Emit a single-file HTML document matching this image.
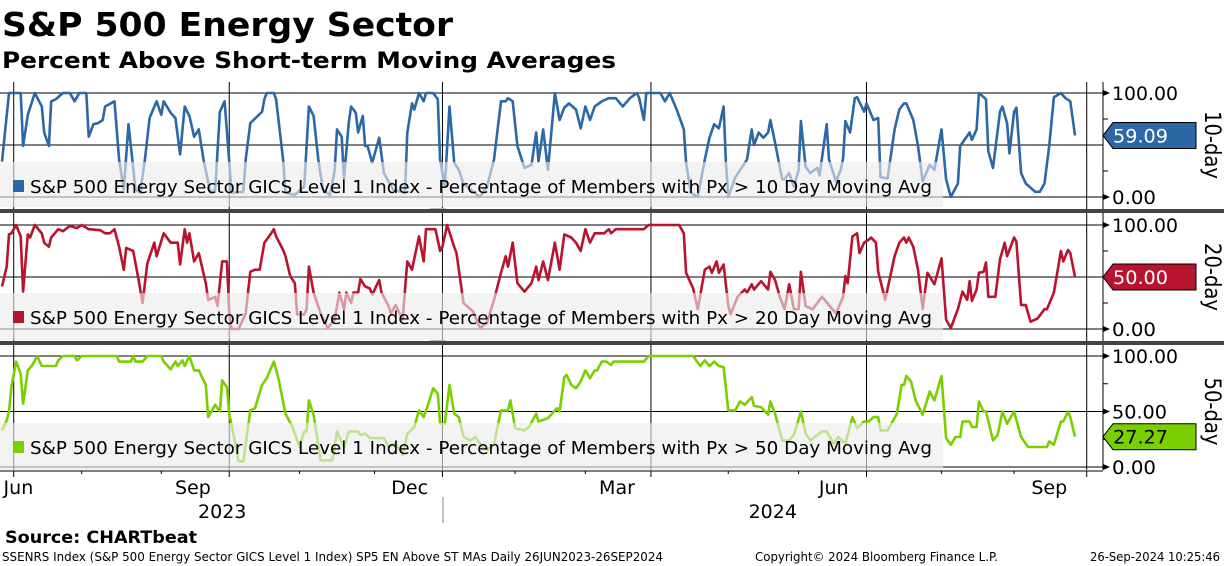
<!DOCTYPE html>
<html><head><meta charset="utf-8">
<style>
html,body{margin:0;padding:0;background:#fff;}
svg{display:block;font-family:"DejaVu Sans","Liberation Sans",sans-serif;}
</style></head>
<body>
<svg id="chart" width="1224" height="566" viewBox="0 0 1224 566" xmlns="http://www.w3.org/2000/svg">
<text x="2" y="36" font-size="33" font-weight="bold" textLength="451" lengthAdjust="spacingAndGlyphs">S&amp;P 500 Energy Sector</text>
<text x="2" y="68" font-size="22" font-weight="bold" textLength="614" lengthAdjust="spacingAndGlyphs">Percent Above Short-term Moving Averages</text>
<g id="plots"></g>
<text x="5" y="543" font-size="17" font-weight="bold" textLength="192" lengthAdjust="spacingAndGlyphs">Source: CHARTbeat</text>
<text x="2" y="561" font-size="12" textLength="661" lengthAdjust="spacingAndGlyphs">SSENRS Index (S&amp;P 500 Energy Sector GICS Level 1 Index) SP5 EN Above ST MAs  Daily 26JUN2023-26SEP2024</text>
<text x="755" y="561" font-size="12" textLength="243" lengthAdjust="spacingAndGlyphs">Copyright© 2024 Bloomberg Finance L.P.</text>
<text x="1090" y="561" font-size="12" textLength="130" lengthAdjust="spacingAndGlyphs">26-Sep-2024 10:25:46</text>
</svg>
<script>
// days since 26-Jun-2023 (time axis) and values (%)
const tenDayT=[0,3,8,9,11,14,17,18,20,21,23,26,29,31,33,36,37,39,41,43,44,48,50,52,54,57,59,61,63,66,68,69,72,74,76,78,80,82,84,86,89,91,93,95,97,98,103,104,106,111,112,113,116,117,120,121,125,129,131,133,135,137,140,142,143,145,146,148,149,151,152,154,155,156,158,161,163,167,172,173,175,176,178,180,181,184,186,187,189,191,193,195,197,200,204,207,210,213,215,216,218,220,223,226,228,229,231,233,236,238,240,242,245,247,249,251,253,256,259,262,265,268,271,272,274,275,281,283,285,288,291,292,294,297,300,302,304,306,308,309,310,313,316,318,320,321,323,325,327,328,330,333,334,336,338,340,341,343,345,348,349,352,353,356,358,359,360,362,364,365,368,369,372,374,375,378,381,383,385,386,389,391,393,396,398,401,403,405,408,409,413,414,416,417,420,421,423,426,427,429,430,432,433,435,437,441,443,445,447,449,452,454,456,458];
const tenDayV=[34,100,100,49,79,100,87,62,49,92,94,100,100,92,100,100,58,70,71,74,87,92,36,7,70,7,4,36,76,92,79,92,81,76,41,87,78,58,65,36,4,7,82,92,33,4,5,36,71,82,94,100,100,94,36,4,2,10,87,78,36,7,2,26,65,58,17,71,87,81,62,78,49,49,33,57,23,7,4,62,90,84,100,92,100,100,94,36,10,87,33,26,13,7,0,10,36,92,92,95,92,49,28,31,62,34,65,26,100,74,86,90,84,66,87,74,87,92,95,95,87,95,100,95,74,100,100,92,100,84,65,33,4,0,36,57,70,66,87,33,0,19,29,36,65,50,62,57,62,74,52,17,17,23,10,26,73,29,23,28,21,70,36,15,26,37,73,62,95,96,82,90,74,76,19,18,65,84,90,90,74,49,15,31,26,65,17,0,13,49,62,55,65,100,94,44,28,82,87,71,42,82,86,23,13,5,5,13,49,96,100,95,92,59.09];
const twentyDayT=[0,2,3,4,6,8,9,11,12,14,17,18,20,21,24,26,29,32,34,37,42,44,46,48,50,52,53,56,58,60,62,65,66,69,72,75,76,78,79,80,82,84,87,88,91,92,94,96,97,98,101,104,106,108,110,112,114,116,117,120,121,123,125,126,129,130,131,133,136,139,142,144,146,147,149,150,152,153,155,157,158,161,162,165,166,168,171,173,175,178,180,181,185,187,188,190,193,194,197,201,204,207,210,213,215,216,218,220,223,226,228,229,231,233,236,238,240,243,245,247,249,251,253,257,259,260,262,274,276,289,291,292,295,297,300,302,303,305,306,308,310,311,314,317,318,320,321,324,327,328,330,332,334,336,338,340,341,343,346,350,353,356,359,360,361,363,365,366,368,370,371,373,374,377,381,383,385,386,387,389,391,393,395,398,401,403,405,408,410,412,413,414,416,417,419,420,421,424,426,428,429,432,433,435,437,439,442,445,446,449,452,453,455,456,458];
const twentyDayV=[41,60,91,92,100,89,36,91,88,100,92,83,79,88,96,94,99,97,100,96,95,92,92,96,79,57,78,75,51,25,63,83,70,92,83,83,62,96,83,92,65,73,44,28,31,22,65,65,15,0,0,15,55,57,57,83,89,96,89,76,70,51,44,14,14,19,60,35,15,1,9,35,19,35,25,35,35,48,41,39,33,47,35,22,15,23,9,65,57,89,65,96,96,75,79,100,79,73,25,17,1,6,28,54,70,60,83,44,36,44,60,47,65,47,83,57,91,88,83,75,96,83,92,92,96,92,96,96,100,100,92,54,39,19,57,60,54,65,54,62,22,14,31,38,35,43,38,46,38,55,47,31,19,43,19,19,55,22,19,31,23,15,31,51,44,89,92,73,83,86,88,83,55,28,70,83,88,83,88,79,57,19,54,43,68,9,1,19,36,28,46,27,38,54,55,64,31,31,67,83,70,88,84,23,23,7,10,19,19,35,75,65,76,73,50];
const fiftyDayT=[0,2,3,4,6,8,9,11,13,15,17,23,24,26,31,32,34,49,50,55,56,57,60,62,68,69,72,74,75,77,78,80,82,84,87,88,91,93,94,96,97,99,101,103,106,108,111,113,116,118,121,124,127,129,130,131,133,136,141,143,146,148,152,153,155,157,163,165,168,171,173,176,178,180,182,184,186,187,189,191,193,195,197,200,202,204,207,210,213,216,217,219,223,225,228,229,233,236,237,238,240,241,243,245,247,249,251,253,254,256,258,260,261,274,276,295,298,300,302,304,306,308,310,313,315,317,320,321,324,327,328,330,333,336,338,341,343,345,350,352,355,357,360,363,365,368,370,372,374,375,378,382,384,385,386,388,390,393,396,398,401,403,405,407,409,410,413,414,416,417,419,420,423,425,427,429,432,435,438,446,447,449,452,453,455,456,458];
const fiftyDayV=[33,42,50,72,95,84,57,87,92,100,91,91,96,100,100,96,100,100,95,95,100,95,95,100,100,95,88,95,91,96,91,100,87,87,74,45,56,50,78,72,48,27,5,5,51,53,74,80,95,80,48,36,18,32,32,60,47,6,6,32,18,32,32,29,30,26,26,18,21,11,30,36,51,45,57,71,66,39,39,74,48,45,27,24,27,21,15,21,51,51,60,35,33,36,48,41,44,51,53,50,81,83,74,71,77,87,80,87,87,95,95,92,95,95,100,100,91,96,91,95,91,90,51,51,59,56,63,55,54,47,59,48,24,24,29,50,30,24,32,32,21,27,21,45,35,41,41,45,45,33,33,48,74,74,82,77,60,47,68,60,82,26,20,27,27,41,41,36,36,59,50,50,24,29,50,39,50,27,18,18,23,20,41,41,50,45,27.27];
const monthLabels=["Jun","Sep","Dec","Mar","Jun","Sep"];
const monthLabelDays=[7,81.5,174,262.5,355,447];
const quarterDays=[5,97,188,277,369,463];
const minorTickDays=[34,68,127,159,219,249,310,340,401,432];
const yearLabels=["2023","2024"];
const yearLabelDays=[94,329];
const yTicks=[0,50,100];
const panelNames=["10-day","20-day","50-day"];
const legendTexts=["S&P 500 Energy Sector GICS Level 1 Index - Percentage of Members with Px > 10 Day Moving Avg","S&P 500 Energy Sector GICS Level 1 Index - Percentage of Members with Px > 20 Day Moving Avg","S&P 500 Energy Sector GICS Level 1 Index - Percentage of Members with Px > 50 Day Moving Avg"];
const lastValues=[59.09,50.00,27.27];

const NS="http://www.w3.org/2000/svg";
const X0=2,X1=1075,D0=0,D1=458,RIGHT=1103;
function xs(d){return X0+(d-D0)*(X1-X0)/(D1-D0);}
const panels=[
 {top:93,bot:197,band:[162,207],col:"#2c67a6",tcol:"#fff",T:tenDayT,V:tenDayV,labels:[100,0]},
 {top:225,bot:329,band:[293,340],col:"#b9142e",tcol:"#fff",T:twentyDayT,V:twentyDayV,labels:[100,0]},
 {top:356,bot:467,band:[423,470],col:"#7acf00",tcol:"#000",T:fiftyDayT,V:fiftyDayV,labels:[100,50,0]}
];
const root=document.getElementById("plots");
function mk(tag,attrs,parent){const e=document.createElementNS(NS,tag);for(const k in attrs)e.setAttribute(k,attrs[k]);(parent||root).appendChild(e);return e;}

panels.forEach((p,i)=>{
  const ys=v=>p.bot-(v/100)*(p.bot-p.top);
  const g=mk("g",{});
  
  
  const top=i==0?82:(i==1?213:345), bot=i==0?209:(i==1?341:470);
  quarterDays.forEach(d=>{const l=mk("line",{x1:xs(d),x2:xs(d),y1:top,y2:bot,stroke:"#000","stroke-width":1},g);
    
    });
  yTicks.forEach(v=>{const l=mk("line",{x1:0,x2:RIGHT,y1:ys(v),y2:ys(v),stroke:"#000","stroke-width":1},g);
    
    });
  let dstr="";p.T.forEach((t,k)=>{dstr+=(k?"L":"M")+xs(t).toFixed(1)+","+ys(p.V[k]).toFixed(1);});
  const path=mk("path",{d:dstr,fill:"none",stroke:p.col,"stroke-width":2.6,"stroke-linejoin":"round"},g);
  
  
  const band=mk("rect",{x:0,y:p.band[0],width:943,height:p.band[1]-p.band[0],fill:"#ececec","fill-opacity":0.62},g);
  
  
  const sw=mk("rect",{x:13,y:p.band[0]+18,width:11,height:12,fill:p.col},g);
  
  
  const lt=mk("text",{x:30,y:p.band[0]+31,"font-size":18,fill:"#000",textLength:902,lengthAdjust:"spacingAndGlyphs"},g);
  lt.textContent=legendTexts[i];
  
  
  const ax=mk("line",{x1:RIGHT,x2:RIGHT,y1:top,y2:bot,stroke:"#000","stroke-width":1},g);
  
  
  [25,75].forEach(v=>{const t=mk("line",{x1:RIGHT,x2:RIGHT+5,y1:ys(v),y2:ys(v),stroke:"#000"},g);
    
    });
  p.labels.forEach(v=>{
    const a=mk("path",{d:`M${RIGHT},${ys(v)-3}L${RIGHT+7},${ys(v)}L${RIGHT},${ys(v)+3}Z`,fill:"#000"},g);
    
    
    const t=mk("text",{x:1112,y:ys(v)+7,"font-size":19,fill:"#000",textLength:v==100?66:(v==50?55:44),lengthAdjust:"spacingAndGlyphs"},g);
    t.textContent=v.toFixed(2);
    
    
  });
  const yv=ys(lastValues[i]);
  const tag=mk("path",{d:`M${RIGHT},${yv}L${RIGHT+10},${yv-13}L1196,${yv-13}L1196,${yv+13}L${RIGHT+10},${yv+13}Z`,fill:p.col,stroke:"#000","stroke-width":1},g);
  
  
  const tt=mk("text",{x:1113,y:yv+7,"font-size":19,fill:p.tcol,textLength:55,lengthAdjust:"spacingAndGlyphs"},g);
  tt.textContent=lastValues[i].toFixed(2);
  
  
  const cy=(p.top+p.bot)/2;
  const pn=mk("text",{x:1203,y:cy,"font-size":22,fill:"#000","text-anchor":"middle",transform:`rotate(90 1203 ${cy})`,dy:-2,textLength:68,lengthAdjust:"spacingAndGlyphs"},g);
  pn.textContent=panelNames[i];
  
  
});
[209,341].forEach(y=>{
  const s=mk("rect",{x:0,y:y,width:1224,height:4,fill:"#444"});
  
  
  const h=mk("rect",{x:430,y:y-1,width:16,height:1,fill:"#bbb"});
  
  
});
const xa=mk("line",{x1:0,x2:RIGHT,y1:471,y2:471,stroke:"#000"});


quarterDays.forEach(d=>{const t=mk("line",{x1:xs(d),x2:xs(d),y1:471,y2:477,stroke:"#000"});
  
  });
minorTickDays.forEach(d=>{const t=mk("line",{x1:xs(d),x2:xs(d),y1:471,y2:474,stroke:"#000"});
  
  });
monthLabels.forEach((m,k)=>{const t=mk("text",{x:xs(monthLabelDays[k]),y:494,"font-size":19,"text-anchor":"middle"});
  t.textContent=m;
  
  });
yearLabels.forEach((m,k)=>{const t=mk("text",{x:xs(yearLabelDays[k]),y:518,"font-size":19,"text-anchor":"middle"});
  t.textContent=m;
  
  });
const ysep=mk("line",{x1:443,x2:443,y1:497,y2:523,stroke:"#888"});


</script>
</body></html>
